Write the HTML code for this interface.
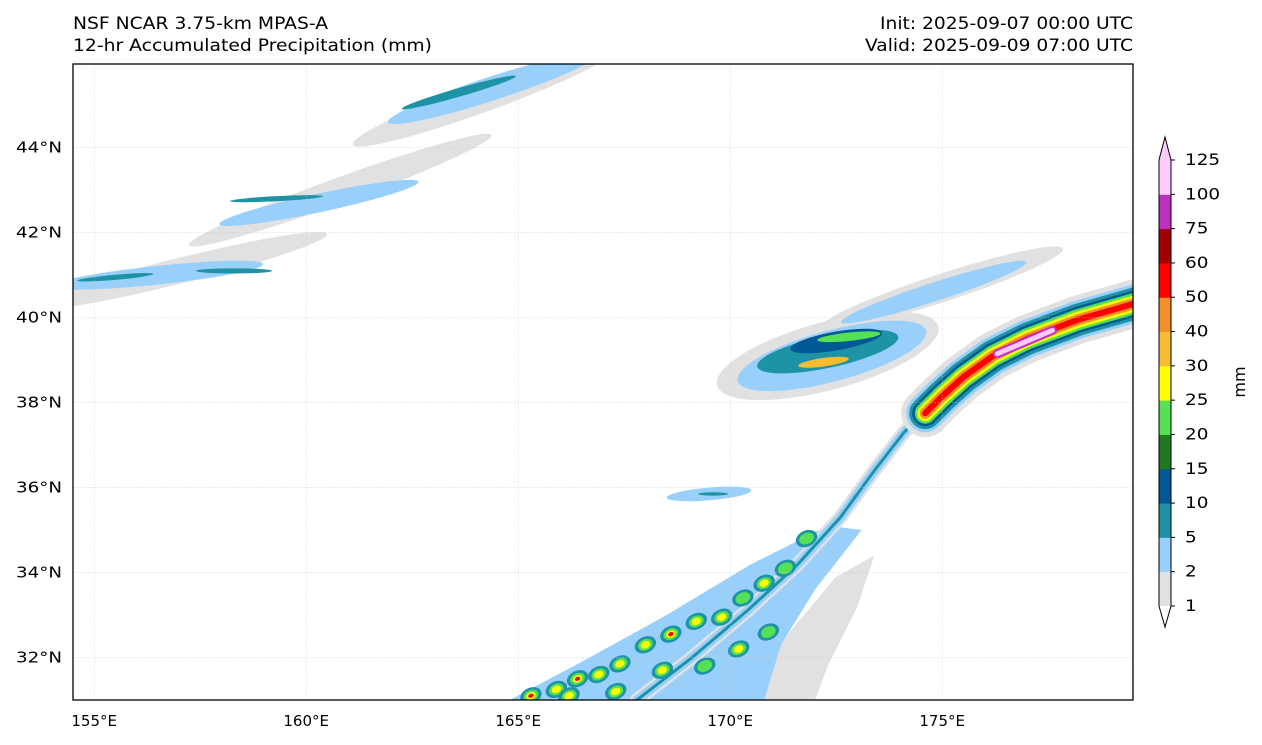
<!DOCTYPE html>
<html><head><meta charset="utf-8">
<style>
html,body{margin:0;padding:0;background:#fff;}
svg{display:block;font-family:"DejaVu Sans","Liberation Sans",sans-serif;}
</style></head>
<body>
<svg id="chart" width="1262" height="745" viewBox="0 0 1262 745" xmlns="http://www.w3.org/2000/svg">
<defs><clipPath id="mapclip"><rect x="73" y="64" width="1060" height="636"/></clipPath></defs>
<text x="73" y="29" font-size="16.5" textLength="255" lengthAdjust="spacingAndGlyphs">NSF NCAR 3.75-km MPAS-A</text>
<text x="73" y="51" font-size="16.5" textLength="359" lengthAdjust="spacingAndGlyphs">12-hr Accumulated Precipitation (mm)</text>
<text x="880" y="29" font-size="16.5" textLength="253" lengthAdjust="spacingAndGlyphs">Init: 2025-09-07 00:00 UTC</text>
<text x="865" y="51" font-size="16.5" textLength="268" lengthAdjust="spacingAndGlyphs">Valid: 2025-09-09 07:00 UTC</text>
<g id="map" clip-path="url(#mapclip)"></g>
<g id="grid"></g>
<rect x="73" y="64" width="1060" height="636" fill="none" stroke="#000" stroke-width="1.3"/>
<g id="axes"></g>
<g id="cbar"></g>
<text x="0" y="0" font-size="16" transform="translate(1245,382) rotate(-90)" text-anchor="middle">mm</text>
</svg>
<script>
const levels = [1,2,5,10,15,20,25,30,40,50,60,75,100,125];
const colors = ["#e1e1e1","#99d0fb","#1f93a6","#005896","#217823","#55e055","#ffff00","#f8bc34","#f18f2c","#ff0000","#a00000","#c030c0","#ffc8ff"];
const lonTicks = [155,160,165,170,175];
const latTicks = [32,34,36,38,40,42,44];
// blobs: [lon, lat, rxDeg, ryDeg, rotation, colorIndex]
const blobs = [
 [157.0,41.1,3.6,0.3,-14,0],[160.8,43.0,3.8,0.3,-20,0],[164.2,45.2,3.3,0.35,-20,0],
 [156.5,41.0,2.5,0.22,-6,1],[160.3,42.7,2.4,0.22,-12,1],[164.4,45.4,2.6,0.28,-18,1],
 [155.5,40.95,0.9,0.06,-5,2],[158.3,41.1,0.9,0.06,0,2],[159.3,42.8,1.1,0.06,-3,2],[163.6,45.3,1.4,0.1,-16,2],
 [172.3,39.1,2.7,0.8,-15,0],[175.0,40.7,3.0,0.33,-18,0],[174.8,40.6,2.3,0.22,-18,1],
 [172.4,39.1,2.3,0.6,-15,1],[172.3,39.2,1.7,0.38,-12,2],[172.5,39.45,1.1,0.22,-10,3],
 [172.8,39.55,0.75,0.1,-6,5],[172.2,38.95,0.6,0.1,-8,7],
 [169.5,35.85,1.0,0.15,-5,1],[169.6,35.85,0.35,0.04,0,2]
];
const bandLon = [179.6,178.2,177.0,176.2,175.5,175.0,174.6];
const bandLat = [40.35,39.95,39.5,39.1,38.6,38.15,37.75];
const bandWidths = [38,32,26,21,16,11,6];
const bandColors = [1,2,3,5,6,8,9];
const tailLon = [174.9,174.1,173.4,172.6,171.6,170.4,169.1,167.8];
const tailLat = [38.1,37.3,36.4,35.3,34.2,33.1,32.0,31.0];
const southGrayLon=[170.3,171.4,172.5,173.4,173.0,172.3,172.0];
const southGrayLat=[31.0,32.6,33.9,34.4,33.2,31.8,31.0];
const southBlueLon=[164.8,166.5,168.5,170.5,172.3,173.1,172.0,171.2,170.8];
const southBlueLat=[31.0,31.9,33.0,34.2,35.1,35.0,33.6,32.3,31.0];
const cellLon=[165.3,165.9,166.4,166.9,167.4,168.0,168.6,169.2,169.8,170.3,170.8,171.3,171.8,166.2,167.3,168.4,169.4,170.2,170.9];
const cellLat=[31.1,31.25,31.5,31.6,31.85,32.3,32.55,32.85,32.95,33.4,33.75,34.1,34.8,31.1,31.2,31.7,31.8,32.2,32.6];
const cellMax=[9,7,9,6,8,6,9,6,7,5,6,5,5,6,7,6,5,6,5];

const L0=154.5,L1=179.5,B0=31.0,B1=45.97,X0=73,X1=1133,Y0=64,Y1=700;
const px=lon=>X0+(lon-L0)/(L1-L0)*(X1-X0);
const py=lat=>Y1-(lat-B0)/(B1-B0)*(Y1-Y0);
const NS="http://www.w3.org/2000/svg";
function mk(tag,attrs,parent){const e=document.createElementNS(NS,tag);for(const k in attrs)e.setAttribute(k,attrs[k]);parent.appendChild(e);return e;}
const map=document.getElementById('map');
let pts=southGrayLon.map((l,i)=>px(l)+','+py(southGrayLat[i])).join(' ');
let e=mk('polygon',{points:pts,fill:colors[0]},map);


pts=southBlueLon.map((l,i)=>px(l)+','+py(southBlueLat[i])).join(' ');
e=mk('polygon',{points:pts,fill:colors[1]},map);


blobs.forEach(b=>{
  const cx=px(b[0]),cy=py(b[1]),rx=b[2]/(L1-L0)*(X1-X0),ry=b[3]/(B1-B0)*(Y1-Y0);
  const el=mk('ellipse',{cx:cx,cy:cy,rx:rx,ry:ry,fill:colors[b[5]],transform:`rotate(${b[4]} ${cx} ${cy})`},map);
  
  
});
const tailD='M'+tailLon.map((l,i)=>px(l)+' '+py(tailLat[i])).join(' L');
[[14,0],[9,1],[3,2]].forEach(w=>{
  const el=mk('path',{d:tailD,fill:'none',stroke:colors[w[1]],'stroke-width':w[0],'stroke-linecap':'round','stroke-linejoin':'round'},map);
  
  
});
cellLon.forEach((l,i)=>{
  const cx=px(l),cy=py(cellLat[i]);
  const seq=[2,5,6,9];
  const radii=[8,5.5,3.5,2];
  seq.forEach((c,j)=>{
    if(c>cellMax[i] && j>0) return;
    const el=mk('ellipse',{cx:cx,cy:cy,rx:radii[j]*1.4,ry:radii[j],fill:colors[c],transform:`rotate(-25 ${cx} ${cy})`},map);
    
    
  });
});
const bandD='M'+bandLon.map((l,i)=>px(l)+' '+py(bandLat[i])).join(' L');
e=mk('path',{d:bandD,fill:'none',stroke:colors[0],'stroke-width':48,'stroke-linecap':'round','stroke-linejoin':'round'},map);


bandWidths.forEach((w,i)=>{
  const el=mk('path',{d:bandD,fill:'none',stroke:colors[bandColors[i]],'stroke-width':w,'stroke-linecap':'round','stroke-linejoin':'round'},map);
  
  
});
const pinkD=`M${px(177.6)} ${py(39.7)} L${px(176.3)} ${py(39.15)}`;
e=mk('path',{d:pinkD,fill:'none',stroke:colors[11],'stroke-width':9,'stroke-linecap':'round'},map);


e=mk('path',{d:pinkD,fill:'none',stroke:colors[12],'stroke-width':5,'stroke-linecap':'round'},map);


const grid=document.getElementById('grid'),axes=document.getElementById('axes');
lonTicks.forEach(l=>{
  const x=px(l);
  let g=mk('line',{x1:x,x2:x,y1:Y0,y2:Y1,stroke:'#ccc','stroke-width':0.6,'stroke-dasharray':'2 1','opacity':0.6},grid);
  
  
  let t=mk('text',{x:x,y:726,'font-size':15,'text-anchor':'middle'},axes);
  t.textContent=l+'°E';
  
  
});
latTicks.forEach(b=>{
  const y=py(b);
  let g=mk('line',{x1:X0,x2:X1,y1:y,y2:y,stroke:'#ccc','stroke-width':0.6,'stroke-dasharray':'2 1','opacity':0.6},grid);
  
  
  let t=mk('text',{x:16,y:y+5,'font-size':15,textLength:46,lengthAdjust:'spacingAndGlyphs'},axes);
  t.textContent=b+'°N';
  
  
});
const cb=document.getElementById('cbar');
const cx0=1159,cw=12,cTop=160,cBot=606;
const step=(cBot-cTop)/(levels.length-1);
const ly=i=>cBot-i*step;
for(let i=0;i<levels.length-1;i++){
  const r=mk('rect',{x:cx0,y:ly(i+1),width:cw,height:step+0.5,fill:colors[i]},cb);
  
  
}
let tri=mk('polygon',{points:`${cx0},${cTop} ${cx0+cw},${cTop} ${cx0+cw/2},${cTop-23}`,fill:colors[12]},cb);


tri=mk('polygon',{points:`${cx0},${cBot} ${cx0+cw},${cBot} ${cx0+cw/2},${cBot+21}`,fill:'#fff'},cb);


let out=mk('polygon',{points:`${cx0+cw/2},${cTop-23} ${cx0+cw},${cTop} ${cx0+cw},${cBot} ${cx0+cw/2},${cBot+21} ${cx0},${cBot} ${cx0},${cTop}`,fill:'none',stroke:'#000','stroke-width':1},cb);


levels.forEach((v,i)=>{
  const y=ly(i);
  let tk=mk('line',{x1:cx0+cw,x2:cx0+cw+4,y1:y,y2:y,stroke:'#000','stroke-width':1},cb);
  
  
  const s=String(v);
  let t=mk('text',{x:cx0+cw+14,y:y+5,'font-size':16,textLength:s.length*11.7,lengthAdjust:'spacingAndGlyphs'},cb);
  t.textContent=s;
  
  
});
</script>
</body></html>
